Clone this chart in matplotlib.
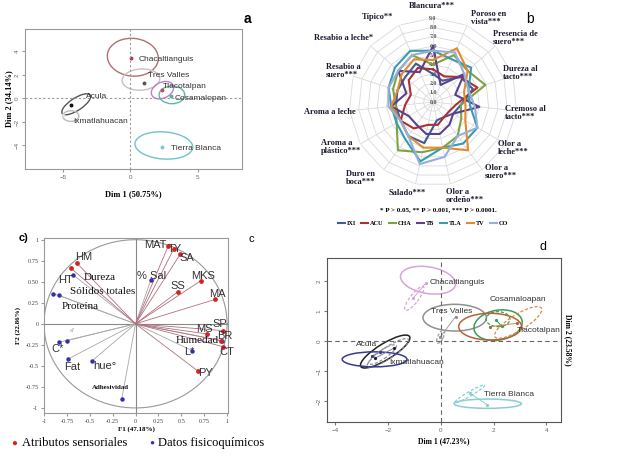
import numpy as np
import matplotlib
matplotlib.use('Agg')
import matplotlib.pyplot as plt
from matplotlib.patches import Ellipse
from matplotlib.lines import Line2D

plt.rcParams['font.family'] = ['Liberation Sans', 'DejaVu Sans']
SERIF = ['Liberation Serif', 'DejaVu Serif']

W, H = 623, 466

# ---------------- panel a: sensory PCA by origin ----------------
a_names = ['Chacaltianguis', 'Tres Valles', 'Tlacotalpan', 'Cosamalopan', 'Acula', 'Ixmatlahuacan', 'Tierra Blanca']
a_x = [0.1, 1.0, 2.4, 3.0, -4.4, -5.0, 2.4]
a_y = [3.4, 1.3, 0.7, 0.2, -0.55, -1.4, -4.1]
a_lab_x = [0.6, 1.3, 2.45, 3.3, -3.3, -4.2, 3.0]
a_lab_y = [3.3, 1.95, 1.0, 0.0, 0.2, -2.0, -4.3]
a_ell_x = [0.2, 0.8, 2.4, 3.1, -4.0, -4.4, 2.5]
a_ell_y = [3.5, 1.6, 0.7, 0.3, -0.5, -1.5, -4.0]
a_ell_w = [3.8, 2.8, 1.8, 1.9, 2.6, 1.2, 4.3]
a_ell_h = [3.2, 1.8, 1.3, 1.5, 1.0, 0.9, 2.3]
a_ell_ang = [-10, 5, 35, 0, 38, 0, -5]

# ---------------- panel b: radar of sensory attributes ----------------
b_cats = ['Blancura***', 'Poroso en\nvista***', 'Presencia de\nsuero***', 'Dureza al\ntacto***',
          'Cremoso al\ntacto***', 'Olor a\nleche***', 'Olor a\nsuero***', 'Olor a\nordeño***',
          'Salado***', 'Duro en\nboca***', 'Aroma a\nplástico***', 'Aroma a leche',
          'Resabio a\nsuero***', 'Resabio a leche*', 'Típico**']
b_series = ['IXI', 'ACU', 'CHA', 'TB', 'TLA', 'TV', 'CO']
ixi = [3.0, 2.5, 4.0, 4.5, 3.0, 2.5, 2.0, 2.0, 4.5, 4.5, 4.0, 4.0, 4.0, 4.0, 4.5]
acu = [3.5, 3.0, 4.0, 5.0, 2.5, 2.0, 2.0, 2.5, 2.5, 3.5, 4.0, 3.0, 2.5, 3.5, 4.0]
cha = [4.0, 5.5, 5.0, 5.9, 3.0, 3.5, 4.5, 5.0, 5.5, 6.4, 4.5, 4.0, 4.5, 5.0, 5.5]
tb = [6.0, 2.0, 4.5, 2.5, 5.0, 2.5, 3.0, 3.5, 3.5, 3.0, 3.0, 4.5, 3.0, 5.0, 3.5]
tla = [5.5, 5.0, 5.5, 4.0, 4.0, 5.5, 5.5, 5.0, 6.5, 5.0, 4.5, 4.5, 5.0, 5.5, 6.0]
tv = [4.5, 6.3, 5.0, 3.5, 3.5, 4.0, 6.4, 5.0, 5.0, 4.5, 4.0, 4.5, 4.0, 4.5, 5.0]
co = [5.5, 5.8, 4.5, 4.0, 4.5, 5.5, 4.5, 6.0, 6.8, 4.5, 4.0, 4.8, 5.0, 5.0, 5.5]
b_values = [ixi, acu, cha, tb, tla, tv, co]

# ---------------- panel c: correlation circle ----------------
c_sens_names = ['MAT', 'TY', 'SA', 'MKS', 'SS', 'MA', 'SP', 'MS', 'BR', 'CT', 'PY', 'HM', 'HT']
c_sens_x = [0.355, 0.42, 0.49, 0.71, 0.46, 0.87, 0.95, 0.78, 0.93, 0.95, 0.68, -0.64, -0.71]
c_sens_y = [0.92, 0.895, 0.83, 0.51, 0.38, 0.29, -0.08, -0.12, -0.2, -0.27, -0.56, 0.72, 0.665]
c_sens_lx = [0.22, 0.43, 0.56, 0.74, 0.46, 0.89, 0.92, 0.75, 0.97, 1.0, 0.76, -0.57, -0.76]
c_sens_ly = [0.94, 0.895, 0.78, 0.57, 0.45, 0.35, 0.0, -0.06, -0.14, -0.33, -0.58, 0.79, 0.52]
c_phys_names = ['% Sal', 'Dureza', 'Sólidos totales', 'Proteína', 'a*', 'C*', 'Fat', 'hue°', 'Adhesividad', 'L*', 'Humedad']
c_phys_x = [0.165, -0.68, -0.84, -0.9, -0.75, -0.84, -0.74, -0.475, -0.15, 0.62, 0.94]
c_phys_y = [0.515, 0.58, 0.34, 0.36, -0.2, -0.22, -0.42, -0.44, -0.89, -0.32, -0.2]
c_phys_lx = [0.175, -0.39, -0.355, -0.6, -0.69, -0.85, -0.69, -0.34, -0.27, 0.585, 0.67]
c_phys_ly = [0.57, 0.55, 0.38, 0.2, -0.08, -0.3, -0.51, -0.5, -0.76, -0.34, -0.2]
c_serif = ['Dureza', 'Sólidos totales', 'Proteína', 'Humedad']

# ---------------- panel d: PCA with partial points ----------------
d_names = ['Chacaltianguis', 'Tres Valles', 'Cosamaloapan', 'Tlacotalpan', 'Acula', 'Ixmatlahuacan', 'Tierra Blanca']
d_lab_x = [-0.42, -0.35, 1.86, 2.89, -3.19, -1.96, 1.63]
d_lab_y = [1.96, 0.98, 1.38, 0.36, -0.11, -0.72, -1.78]
d_ell_x = [-0.48, 0.53, 2.17, 1.87, -2.1, -2.5, 1.78]
d_ell_y = [2.03, 0.78, 0.53, 0.48, -0.35, -0.61, -2.09]
d_ell_w = [2.1, 2.4, 1.84, 2.38, 2.1, 2.45, 2.55]
d_ell_h = [0.89, 0.89, 1.0, 0.89, 0.55, 0.5, 0.31]
d_ell_ang = [-8, 0, 8, 0, 28, 0, 0]
d_dash_x = [-1.0, 0.0, 2.17, 2.93, -2.0, -2.2, 1.1]
d_dash_y = [1.42, 0.15, 0.73, 0.62, -0.4, -0.45, -1.76]
d_dash_w = [1.04, 0.5, 0.9, 2.0, 1.8, 1.2, 1.27]
d_dash_h = [0.3, 0.2, 0.5, 0.55, 0.4, 0.3, 0.15]
d_dash_ang = [48, 60, 0, 28, 30, 30, 27]
d_p1_x = [-0.55, 0.56, 2.1, 1.86, -1.78, -2.31, 1.1]
d_p1_y = [1.95, 0.81, 0.7, 0.48, -0.24, -0.36, -1.74]
d_p2_x = [-1.05, -0.01, 2.3, 2.87, -2.5, -2.6, 1.77]
d_p2_y = [1.42, 0.14, 0.5, 0.59, -0.58, -0.5, -2.13]


def fx(px):
    return px / W


def fy(py):
    return 1 - py / H


fig = plt.figure(figsize=(W / 100, H / 100), dpi=100)

# ================= panel a =================
axa = fig.add_axes([fx(25), fy(169), 217 / W, 140 / H])
a_cols = ['#B07070', '#C8C0C8', '#C080C8', '#60B8A8', '#555555', '#BBBBBB', '#70C4C4']
a_dot = ['#C0304A', '#555555', '#D04080', '#50B0A0', '#111111', '#DDDDDD', '#80C8C8']
for i in range(len(a_names)):
    axa.add_patch(Ellipse((a_ell_x[i], a_ell_y[i]), a_ell_w[i], a_ell_h[i], angle=a_ell_ang[i],
                          fill=False, ec=a_cols[i], lw=1.0))
    axa.plot(a_x[i], a_y[i], 'o', ms=1.8, color=a_dot[i])
    axa.text(a_lab_x[i], a_lab_y[i], a_names[i], fontsize=6, color='#333333', va='center', ha='left')
axa.axhline(0, color='#999999', ls=(0, (2, 2)), lw=0.8)
axa.axvline(0, color='#999999', ls=(0, (2, 2)), lw=0.8)
axa.set_xlim(-7.8, 8.3)
axa.set_ylim(-6.0, 5.9)
axa.set_xticks([-5, 0, 5])
axa.set_yticks([-4, -2, 0, 2, 4])
axa.tick_params(labelsize=4.5, labelcolor='#666666', length=2, color='#999999', pad=2)
for lab in axa.get_yticklabels():
    lab.set_rotation(90)
    lab.set_va('center')
for s in axa.spines.values():
    s.set_color('#999999')
axa.set_xlabel('Dim 1 (50.75%)', family=SERIF, fontsize=6, weight='bold', labelpad=8)
axa.set_ylabel('Dim 2 (34.14%)', family=SERIF, fontsize=6, weight='bold', labelpad=1)
fig.text(fx(247), fy(19), 'a', fontsize=10, weight='bold', ha='center', va='center')

# ================= panel b =================
R0 = 84
axb = fig.add_axes([fx(433 - R0), fy(102 + R0), 2 * R0 / W, 2 * R0 / H], projection='polar')
axb.set_theta_zero_location('N')
axb.set_theta_direction(-1)
n = len(b_cats)
theta = np.linspace(0, 2 * np.pi, n, endpoint=False)
tc = np.append(theta, theta[0])
for r in range(1, 10):
    axb.plot(tc, [r] * (n + 1), color='#D9D9D9', lw=0.6, zorder=1)
for t in theta:
    axb.plot([t, t], [0, 9], color='#D9D9D9', lw=0.6, zorder=1)
b_cols = ['#3E5C9A', '#A83232', '#7EA343', '#5E3F8C', '#3A9AB0', '#E48A2E', '#94B0DA']
for vals, col in zip(b_values, b_cols):
    axb.plot(tc, vals + vals[:1], color=col, lw=1.5, zorder=3)
for r in range(0, 10):
    axb.text(0, r, f'{r:.1f}', ha='center', va='center', fontsize=4.2, family=SERIF,
             weight='bold', color='#555555', zorder=2)
axb.set_ylim(0, 9)
axb.grid(False)
axb.set_xticks([])
axb.set_yticks([])
axb.spines['polar'].set_visible(False)
axb.patch.set_alpha(0)

b_lab_px = [(432, 6), (489, 18), (515, 38), (520, 73), (525, 113), (513, 148), (501, 172),
            (465, 196), (407, 193), (361, 178), (341, 147), (330, 112), (343, 71), (344, 38), (378, 17)]
for cat, (px, py) in zip(b_cats, b_lab_px):
    fig.text(fx(px), fy(py), cat, family=SERIF, fontsize=6, weight='bold', color='#1A1A2E',
             ha='center', va='center', multialignment='left', linespacing=1.0)
fig.text(fx(438), fy(210), '* P > 0.05, ** P > 0.001, *** P > 0.0001.', family=SERIF, fontsize=5,
         weight='bold', ha='center', va='center')
handles = [Line2D([], [], color=c, lw=1.5) for c in b_cols]
fig.legend(handles, b_series, loc='center', bbox_to_anchor=(fx(423), fy(223)), ncol=7, frameon=False,
           prop={'family': SERIF, 'size': 4.5, 'weight': 'bold'}, handlelength=1.1, handletextpad=0.3,
           columnspacing=0.9)
fig.text(fx(530), fy(19), 'b', fontsize=10, ha='center', va='center')

# ================= panel c =================
axc = fig.add_axes([fx(44), fy(413), 184 / W, 175 / H])
tt = np.linspace(0, 2 * np.pi, 200)
axc.plot(np.cos(tt), np.sin(tt), color='#999999', lw=0.8)
axc.axhline(0, color='#888888', lw=0.8)
axc.axvline(0, color='#888888', lw=0.8)
for x, y in zip(c_phys_x, c_phys_y):
    axc.plot([0, x], [0, y], color='#A8A8A8', lw=0.6)
for x, y in zip(c_sens_x, c_sens_y):
    axc.plot([0, x], [0, y], color='#B07080', lw=0.6)
axc.plot(c_phys_x, c_phys_y, 'o', ms=2.2, color='#3030B0', ls='none')
axc.plot(c_sens_x, c_sens_y, 'o', ms=2.4, color='#D82020', ls='none')
for name, x, y in zip(c_sens_names, c_sens_lx, c_sens_ly):
    axc.text(x, y, name, fontsize=8, color='#333333', ha='center', va='center')
for name, x, y in zip(c_phys_names, c_phys_lx, c_phys_ly):
    if name in c_serif:
        axc.text(x, y, name, fontsize=8, family=SERIF, color='#111111', ha='center', va='center')
    elif name == 'Adhesividad':
        axc.text(x, y, name, fontsize=5, family=SERIF, weight='bold', color='#111111', ha='center', va='center')
    elif name == 'a*':
        axc.text(x, y, name, fontsize=4, color='#999999', ha='center', va='center')
    else:
        axc.text(x, y, name, fontsize=8, color='#333333', ha='center', va='center')
axc.set_xlim(-1.0, 1.01)
axc.set_ylim(-1.06, 1.02)
axc.set_xticks([-1, -0.75, -0.5, -0.25, 0, 0.25, 0.5, 0.75, 1])
axc.set_xticklabels(['-1', '-0.75', '-0.5', '-0.25', '0', '0.25', '0.5', '0.75', '1'])
axc.set_yticks([-1, -0.75, -0.5, -0.25, 0, 0.25, 0.5, 0.75, 1])
axc.set_yticklabels(['-1', '-0.75', '-0.5', '-0.25', '0', '0.25', '0.50', '0.75', '1'])
axc.tick_params(labelsize=4.5, labelcolor='#444444', length=2, color='#999999', pad=2)
for lab in axc.get_xticklabels() + axc.get_yticklabels():
    lab.set_family(SERIF)
for s in axc.spines.values():
    s.set_color('#999999')
axc.set_xlabel('F1 (47.18%)', family=SERIF, fontsize=5, weight='bold', labelpad=2)
axc.set_ylabel('F2 (22.86%)', family=SERIF, fontsize=5, weight='bold', labelpad=3)
fig.text(fx(23), fy(238), 'c)', fontsize=8, weight='bold', ha='center', va='center')
fig.text(fx(251), fy(239), 'c', fontsize=8, ha='center', va='center')
fig.text(fx(14), fy(443), '\u25cf', fontsize=7, color='#E02020', ha='center', va='center')
fig.text(fx(22), fy(443), 'Atributos sensoriales', family=SERIF, fontsize=9, ha='left', va='center')
fig.text(fx(152), fy(443), '\u25cf', fontsize=6, color='#3030C0', ha='center', va='center')
fig.text(fx(158), fy(443), 'Datos fisicoquímicos', family=SERIF, fontsize=9, ha='left', va='center')

# ================= panel d =================
axd = fig.add_axes([fx(327), fy(422), 234 / W, 164 / H])
d_cols = ['#D8A4D8', '#909090', '#3C9A5C', '#B46434', '#222222', '#3A3A90', '#88CFCF']
d_dash_cols = ['#D8A4D8', '#A0A0A0', '#3C9A5C', '#D88A48', '#888888', '#9090B0', '#88CFCF']
for i in range(len(d_names)):
    axd.add_patch(Ellipse((d_ell_x[i], d_ell_y[i]), d_ell_w[i], d_ell_h[i], angle=d_ell_ang[i],
                          fill=False, ec=d_cols[i], lw=1.1))
    axd.add_patch(Ellipse((d_dash_x[i], d_dash_y[i]), d_dash_w[i], d_dash_h[i], angle=d_dash_ang[i],
                          fill=False, ec=d_dash_cols[i], lw=0.9, ls=(0, (2.5, 1.5))))
    axd.plot([d_p1_x[i], d_p2_x[i]], [d_p1_y[i], d_p2_y[i]], color=d_dash_cols[i], lw=0.7)
    axd.plot([d_p1_x[i], d_p2_x[i]], [d_p1_y[i], d_p2_y[i]], 'o', ms=1.3, color=d_cols[i])
    axd.text(d_lab_x[i], d_lab_y[i], d_names[i], fontsize=6, color='#333333', va='center', ha='left')
axd.axhline(0, color='#666666', ls=(0, (4, 3)), lw=0.8)
axd.axvline(0, color='#666666', ls=(0, (4, 3)), lw=0.8)
axd.set_xlim(-4.3, 4.55)
axd.set_ylim(-2.7, 2.77)
axd.set_xticks([-4, -2, 0, 2, 4])
axd.set_yticks([-2, -1, 0, 1, 2])
axd.tick_params(labelsize=4.5, labelcolor='#666666', length=2, color='#777777', pad=2)
for lab in axd.get_yticklabels():
    lab.set_rotation(90)
    lab.set_va('center')
for s in axd.spines.values():
    s.set_color('#555555')
axd.set_xlabel('Dim 1 (47.23%)', family=SERIF, fontsize=5.5, weight='bold', labelpad=3)
axd.yaxis.set_label_position('right')
axd.set_ylabel('Dim 2 (23.58%)', family=SERIF, fontsize=5.5, weight='bold', rotation=270, labelpad=8)
fig.text(fx(543), fy(247), 'd', fontsize=9, ha='center', va='center')

fig.savefig('out.png', dpi=100)
